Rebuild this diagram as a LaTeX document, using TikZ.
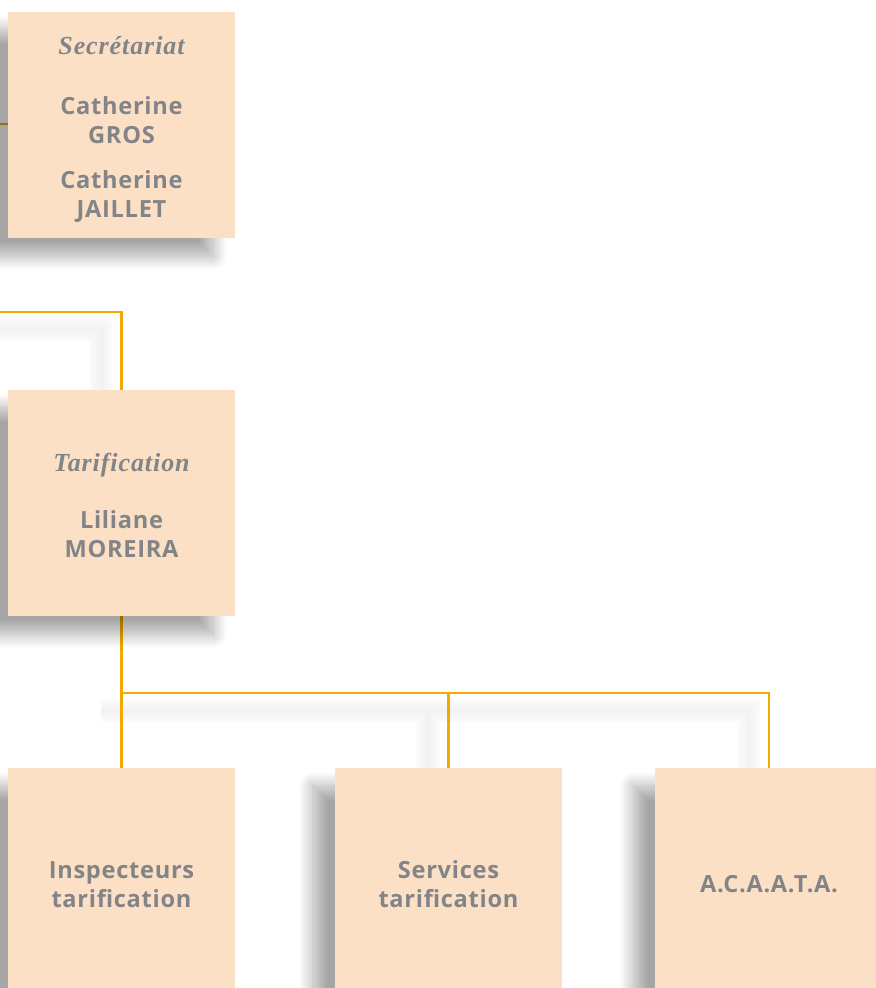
\documentclass[tikz,border=0pt]{standalone}
\usepackage{fontspec}
\setsansfont[LetterSpace=3]{Open Sans}
\newfontfamily\titrefont[LetterSpace=3.5]{Liberation Serif}
\usetikzlibrary{shadows.blur,backgrounds}
\definecolor{peche}{HTML}{FCE0C5}
\definecolor{ligne}{HTML}{F5A800}
\definecolor{gristexte}{HTML}{828487}
\newcommand{\titre}[1]{{\titrefont\bfseries\itshape\fontsize{18.5}{20.6}\selectfont #1}}
\newcommand{\haut}{\rule{0pt}{17pt}}

\begin{document}
\begin{tikzpicture}[x=0.025cm, y=-0.025cm,
	boite/.style={fill=peche, minimum width=5.675cm, minimum height=5.65cm, inner sep=0pt,
		text width=5.4cm, align=center, text=gristexte,
		font=\sffamily\bfseries\fontsize{16.8}{20.6}\selectfont,
		blur shadow={shadow xshift=-0.55cm, shadow yshift=-0.45cm, shadow blur radius=0.35cm,
			shadow blur steps=30, shadow opacity=35}},
	lien/.style={draw=ligne, line width=0.065cm}]
			%%%%% START %%%%%
			
			\useasboundingbox (0, 0) rectangle (876, 988);
			
			\node[boite] (secr) at (121.5, 125) {\rule{0pt}{19pt}\titre{Secrétariat}\\[22pt] Catherine\\GROS\\[11pt] Catherine\\JAILLET};
			\node[boite] (tarif) at (121.5, 503) {\haut\titre{Tarification}\\[20pt] Liliane\\MOREIRA};
			
			\node[boite] (insp) at (121.5, 881) {\haut Inspecteurs\\tarification};
			\node[boite] (serv) at (448.5, 881) {\haut Services\\tarification};
			\node[boite] (acaata) at (769, 881) {\haut A.C.A.A.T.A.};
			
			\coordinate (bord1) at (0, 124);
			\coordinate (bord2) at (0, 312);
			\coordinate (fourche) at (121.5, 693);
			
			\begin{scope}[on background layer]
				% ombre des liens
				\begin{scope}[transform canvas={xshift=-0.5cm, yshift=-0.45cm}]
					\foreach \largeur/\teinte in {0.55/2, 0.4/3, 0.25/4, 0.12/5}{
						\draw[black!\teinte, line width=\largeur cm] (bord2) -| (tarif.north);
						\draw[black!\teinte, line width=\largeur cm] (fourche) -| (serv.north);
						\draw[black!\teinte, line width=\largeur cm] (fourche) -| (acaata.north);
					}
				\end{scope}
				\draw[lien] (bord1) -- (bord1 -| secr.west);
				\draw[lien] (bord2) -| (tarif.north);
				\draw[lien] (tarif.south) -- (insp.north);
				\draw[lien] (fourche) -| (serv.north);
				\draw[lien] (fourche) -| (acaata.north);
			\end{scope}
			
			%%%%% END %%%%%
\end{tikzpicture}
\end{document}
